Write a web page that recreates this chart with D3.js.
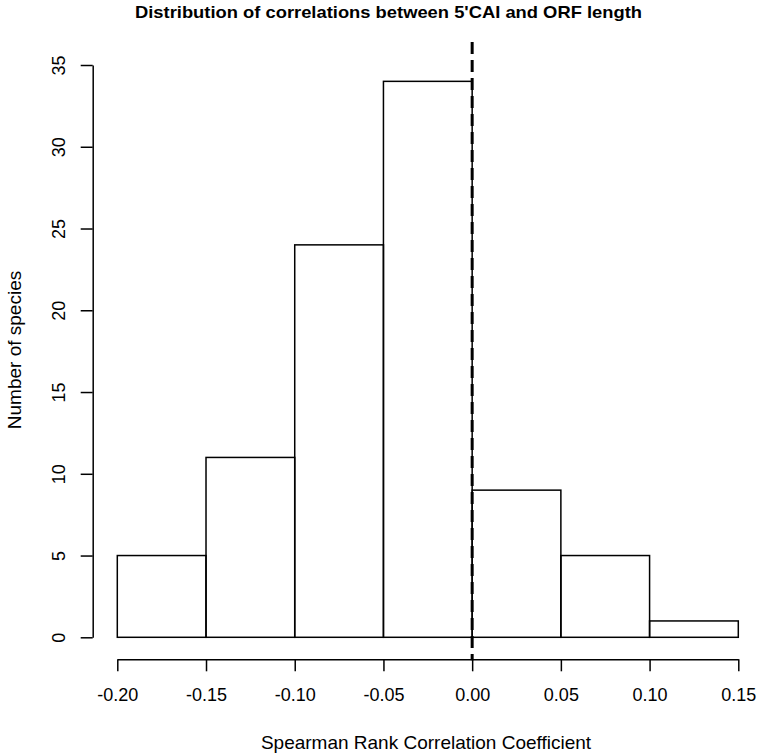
<!DOCTYPE html>
<html><head><meta charset="utf-8">
<script src="https://cdn.jsdelivr.net/npm/d3@7"></script>
<style>body{margin:0;background:#fff}svg{display:block}text{font-family:"Liberation Sans",Arial,sans-serif}</style>
</head><body>
<script>
const binStarts = [-0.20, -0.15, -0.10, -0.05, 0.00, 0.05, 0.10];
const binWidth = 0.05;
const counts = [5, 11, 24, 34, 9, 5, 1];
const xTicks = [-0.20, -0.15, -0.10, -0.05, 0.00, 0.05, 0.10, 0.15];
const yTicks = [0, 5, 10, 15, 20, 25, 30, 35];
const refLine = 0;

const W = 760, H = 756;
const svg = d3.select("body").append("svg").attr("width", W).attr("height", H);
const x = d3.scaleLinear().domain([-0.20, 0.15]).range([117.3, 738.3]);
const y = d3.scaleLinear().domain([0, 35]).range([637.3, 65]);

svg.append("text").attr("x", 135).attr("y", 17.5)
  .attr("font-weight", "bold").attr("font-size", 17)
  .attr("textLength", 507).attr("lengthAdjust", "spacingAndGlyphs")
  .text("Distribution of correlations between 5'CAI and ORF length");

svg.append("g").selectAll("rect").data(binStarts).join("rect")
  .attr("x", (d) => x(d)).attr("width", (d) => x(d + binWidth) - x(d))
  .attr("y", (d, i) => y(counts[i])).attr("height", (d, i) => y(0) - y(counts[i]))
  .attr("fill", "none").attr("stroke", "#000").attr("stroke-width", 1.5);

const fmt = (d) => d.toFixed(2);
// x axis
const xa = svg.append("g").attr("transform", "translate(0,659.3)")
  .call(d3.axisBottom(x).tickValues(xTicks).tickFormat(fmt).tickSize(12).tickSizeOuter(0).tickPadding(17));
// y axis
const ya = svg.append("g").attr("transform", "translate(92.7,0)")
  .call(d3.axisLeft(y).tickValues(yTicks).tickSize(12).tickSizeOuter(0));
ya.selectAll(".tick text").attr("transform", "rotate(-90)").attr("x", 0).attr("dy", 0)
  .attr("y", -27.5).attr("text-anchor", "middle");
[xa, ya].forEach(a => {
  a.select(".domain").attr("stroke-width", 1.5);
  a.selectAll(".tick line").attr("stroke-width", 1.5);
  a.selectAll(".tick text").attr("font-size", 18).attr("fill", "#000").attr("font-family", '"Liberation Sans",Arial,sans-serif');
});
xa.selectAll(".tick text").attr("dy", "0.71em");

svg.append("line").attr("x1", x(refLine)).attr("x2", x(refLine))
  .attr("y1", y(36.4)).attr("y2", y(-1.4))
  .attr("stroke", "#000").attr("stroke-width", 3).attr("stroke-dasharray", "12,6");

svg.append("text").attr("x", 426).attr("y", 749).attr("text-anchor", "middle").attr("font-size", 19)
  .text("Spearman Rank Correlation Coefficient");
svg.append("text").attr("transform", "translate(21,350) rotate(-90)").attr("text-anchor", "middle").attr("font-size", 19)
  .text("Number of species");
</script>
</body></html>
